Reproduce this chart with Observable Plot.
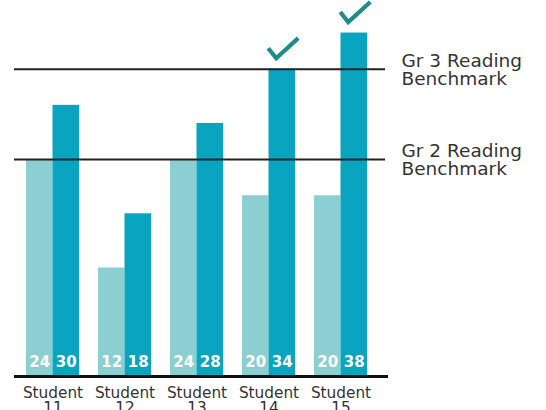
<!DOCTYPE html>
<html><head><meta charset="utf-8">
<script src="https://cdn.jsdelivr.net/npm/d3@7"></script>
<script src="https://cdn.jsdelivr.net/npm/@observablehq/plot@0.6"></script>
<style>
html,body{margin:0;padding:0;background:#fff;}
svg{display:block;font-family:"DejaVu Sans",sans-serif;}
</style></head>
<body><div id="chart"></div>
<script>
const students = ["11", "12", "13", "14", "15"];
const before = [24, 12, 24, 20, 20];
const after = [30, 18, 28, 34, 38];
const benchmarks = [
  {label: "Gr 3 Reading\nBenchmark", value: 34},
  {label: "Gr 2 Reading\nBenchmark", value: 24}
];

const rows = students.map((s, i) => ({student: s, before: before[i], after: after[i]}));
const checked = rows.filter(d => d.after >= benchmarks[0].value);

const half = 26.5;
const check = {
  draw(ctx, size) {
    const r = Math.sqrt(size / Math.PI);
    ctx.moveTo(-r, 0);
    ctx.lineTo(-0.47 * r, 0.67 * r);
    ctx.lineTo(r, -0.67 * r);
  }
};

const chart = Plot.plot({
  width: 546,
  height: 410,
  marginLeft: 14,
  marginRight: 161,
  marginTop: 0,
  marginBottom: 34,
  x: {domain: students, paddingInner: 0.27, paddingOuter: 0.19, align: 0.4, axis: null},
  y: {domain: [0, 41.6], axis: null},
  marks: [
    Plot.barY(rows, {x: "student", y: "before", fill: "#8ccfd3", insetRight: half}),
    Plot.barY(rows, {x: "student", y: "after", fill: "#09a5c0", insetLeft: half}),
    Plot.ruleY(benchmarks, {y: "value", stroke: "#222", strokeWidth: 2}),
    Plot.text(benchmarks, {y: "value", text: "label", frameAnchor: "right", textAnchor: "start", dx: 16, dy: 1, lineAnchor: "middle", fontSize: 18.5, fill: "#333", lineHeight: 0.98}),
    Plot.ruleY([0], {stroke: "#111", strokeWidth: 3, insetRight: -3}),
    Plot.text(rows, {x: "student", y: 0, text: d => String(d.before), dx: -half / 2, dy: -14, fill: "white", fontWeight: "bold", fontSize: 15}),
    Plot.text(rows, {x: "student", y: 0, text: d => String(d.after), dx: half / 2, dy: -14, fill: "white", fontWeight: "bold", fontSize: 15}),
    Plot.text(rows, {x: "student", y: 0, text: d => "Student\n" + d.student, lineAnchor: "top", dy: 10, fontSize: 15.3, fill: "#333", lineHeight: 1.02}),
    Plot.dot(checked, {x: "student", y: "after", dx: half / 2 + 1, dy: -21, symbol: check, r: 15, fill: "none", stroke: "#1f8c8c", strokeWidth: 4.2, strokeLinejoin: "miter", strokeLinecap: "butt"})
  ]
});
document.getElementById("chart").appendChild(chart);
</script>
</body></html>
